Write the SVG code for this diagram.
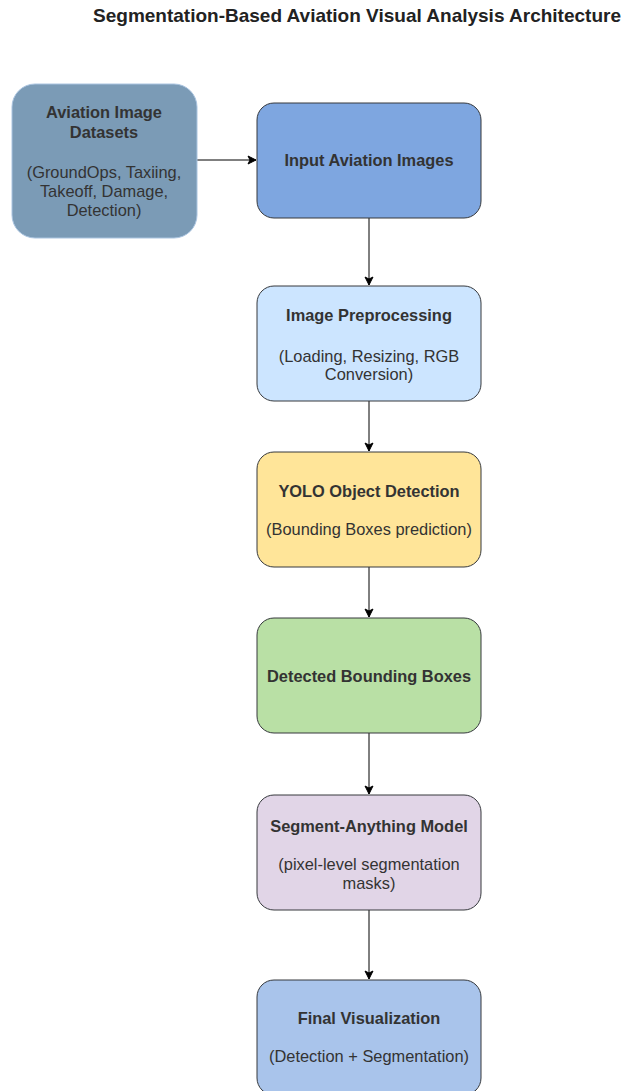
<svg xmlns="http://www.w3.org/2000/svg" width="626" height="1091" viewBox="0 0 626 1091">
<defs>
<marker id="arr" markerWidth="10" markerHeight="10" refX="9" refY="5" orient="auto" markerUnits="userSpaceOnUse">
<path d="M1,1 L9,5 L1,9 L3,5 Z" fill="#000" stroke="#000" stroke-width="1"/>
</marker>
<style>
text{font-family:"Liberation Sans",Arial,sans-serif;font-size:16.4px;fill:#333;text-anchor:middle}
.b{font-weight:bold}
.t{font-size:19px;fill:#222}
.n{stroke:#36393d;stroke-width:1}
.e{stroke:#000;stroke-width:1;fill:none;marker-end:url(#arr)}
</style>
</defs>
<rect width="626" height="1091" fill="#fff"/>
<text class="b t" x="357" y="22">Segmentation-Based Aviation Visual Analysis Architecture</text>
<g id="connectors">
<path class="e" d="M197,160 L256,160"/>
<path class="e" d="M369,218 L369,285"/>
<path class="e" d="M369,401 L369,451"/>
<path class="e" d="M369,567 L369,617"/>
<path class="e" d="M369,733 L369,794"/>
<path class="e" d="M369,910 L369,979"/>
</g>
<g id="datasets">
<rect x="12" y="84" width="185" height="154" rx="23" fill="#7b9bb6" stroke="#aac4e0" stroke-width="1"/>
<text class="b" x="104" y="118">Aviation Image</text>
<text class="b" x="104" y="138">Datasets</text>
<text x="104" y="178">(GroundOps, Taxiing,</text>
<text x="104" y="197">Takeoff, Damage,</text>
<text x="104" y="216">Detection)</text>
</g>
<g id="input">
<rect class="n" x="257" y="103" width="224" height="115" rx="17" fill="#7ea6e0"/>
<text class="b" x="369" y="166">Input Aviation Images</text>
</g>
<g id="preprocessing">
<rect class="n" x="257" y="286" width="224" height="115" rx="17" fill="#cce5ff"/>
<text class="b" x="369" y="321">Image Preprocessing</text>
<text x="369" y="362">(Loading, Resizing, RGB</text>
<text x="369" y="380">Conversion)</text>
</g>
<g id="yolo">
<rect class="n" x="257" y="452" width="224" height="115" rx="17" fill="#ffe599"/>
<text class="b" x="369" y="497">YOLO Object Detection</text>
<text x="369" y="535">(Bounding Boxes prediction)</text>
</g>
<g id="boxes">
<rect class="n" x="257" y="618" width="224" height="115" rx="17" fill="#b9e0a5"/>
<text class="b" x="369" y="682">Detected Bounding Boxes</text>
</g>
<g id="sam">
<rect class="n" x="257" y="795" width="224" height="115" rx="17" fill="#e1d5e7"/>
<text class="b" x="369" y="832">Segment-Anything Model</text>
<text x="369" y="870">(pixel-level segmentation</text>
<text x="369" y="889">masks)</text>
</g>
<g id="final">
<rect class="n" x="257" y="980" width="224" height="115" rx="17" fill="#a9c4eb"/>
<text class="b" x="369" y="1024">Final Visualization</text>
<text x="369" y="1062">(Detection + Segmentation)</text>
</g>
</svg>
